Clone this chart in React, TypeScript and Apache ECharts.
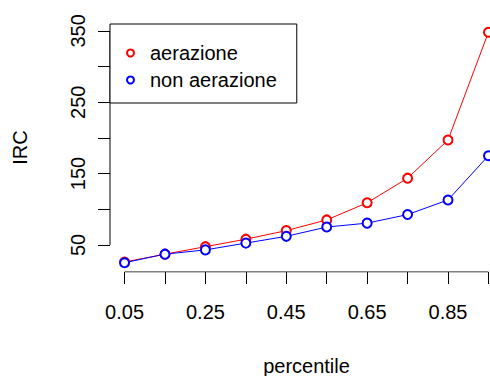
import React, { useEffect, useRef } from "react";
import * as echarts from "echarts";

const percentiles = [0.05, 0.15, 0.25, 0.35, 0.45, 0.55, 0.65, 0.75, 0.85, 0.95];
const aerazione = [26, 37, 47.5, 58, 70, 85, 109, 143.5, 197, 348];
const nonAerazione = [25, 37, 43, 52.5, 62, 75, 80.5, 92.5, 113, 175];
const xTicks = [0.05, 0.15, 0.25, 0.35, 0.45, 0.55, 0.65, 0.75, 0.85, 0.95];
const xLabels = [0.05, 0.25, 0.45, 0.65, 0.85];
const yTicks = [50, 100, 150, 200, 250, 300, 350];
const yLabels = [50, 150, 250, 350];
const xRange = [0.014, 0.986];
const yRange = [12, 361];

const FONT = "Liberation Sans, Arial, sans-serif";

export default function App() {
  const ref = useRef<HTMLDivElement>(null);
  useEffect(() => {
    if (!ref.current) return;
    const chart = echarts.init(ref.current, undefined, { renderer: "svg" });
    const axisLineColor = "#000";
    chart.setOption({
      animation: false,
      backgroundColor: "#fff",
      textStyle: { fontFamily: FONT },
      grid: { left: 110, right: 0, top: 23, bottom: 104, containLabel: false, outerBoundsMode: "none" },
      legend: {
        data: ["aerazione", "non aerazione"],
        orient: "vertical",
        left: 110,
        top: 24,
        icon: "emptyCircle",
        itemWidth: 7,
        itemHeight: 7,
        itemGap: 7,
        padding: [19, 20, 13, 16],
        borderColor: "#000",
        borderWidth: 1,
        backgroundColor: "#fff",
        textStyle: { fontSize: 20, color: "#000", fontFamily: FONT, lineHeight: 20, padding: [0, 0, 0, 11] },
      },
      xAxis: {
        type: "value",
        min: xRange[0],
        max: xRange[1],
        name: "percentile",
        nameLocation: "middle",
        nameGap: 84,
        nameTextStyle: { fontSize: 20, color: "#000", fontFamily: FONT },
        axisLine: { show: false },
        splitLine: { show: false },
        axisTick: { show: true, length: 12, lineStyle: { color: axisLineColor }, customValues: xTicks },
        axisLabel: {
          fontSize: 20,
          color: "#000",
          margin: 30,
          customValues: xLabels,
          formatter: (v: number) => v.toFixed(2),
        },
      },
      yAxis: {
        type: "value",
        min: yRange[0],
        max: yRange[1],
        name: "IRC",
        nameLocation: "middle",
        nameGap: 80,
        nameRotate: 90,
        nameTextStyle: { fontSize: 20, color: "#000", fontFamily: FONT },
        axisLine: { show: false },
        splitLine: { show: false },
        axisTick: { show: true, length: 12, lineStyle: { color: axisLineColor }, customValues: yTicks },
        axisLabel: {
          fontSize: 20,
          color: "#000",
          rotate: 90,
          margin: 22,
          customValues: yLabels,
          formatter: (v: number) => String(v),
        },
      },
      series: [
        {
          name: "yAxisLine",
          type: "line",
          silent: true,
          symbol: "none",
          lineStyle: { color: axisLineColor, width: 1 },
          data: [[xRange[0], yTicks[0]], [xRange[0], yTicks[yTicks.length - 1]]],
        },
        {
          name: "xAxisLine",
          type: "line",
          silent: true,
          symbol: "none",
          lineStyle: { color: axisLineColor, width: 1 },
          data: [[xTicks[0], yRange[0]], [xTicks[xTicks.length - 1], yRange[0]]],
        },
        {
          name: "aerazione",
          type: "line",
          symbol: "emptyCircle",
          symbolSize: 9,
          color: "#ff0000",
          lineStyle: { color: "#ff0000", width: 1 },
          itemStyle: { color: "#ff0000", borderColor: "#ff0000", borderWidth: 1 },
          data: percentiles.map((p, i) => [p, aerazione[i]]),
        },
        {
          name: "non aerazione",
          type: "line",
          symbol: "emptyCircle",
          symbolSize: 9,
          color: "#0000ff",
          lineStyle: { color: "#0000ff", width: 1 },
          itemStyle: { color: "#0000ff", borderColor: "#0000ff", borderWidth: 1 },
          data: percentiles.map((p, i) => [p, nonAerazione[i]]),
        },
      ],
    });
    return () => chart.dispose();
  }, []);
  return (
    <div style={{ position: "fixed", left: 0, top: 0, width: 490, height: 376, overflow: "hidden", background: "#fff" }}>
      <div ref={ref} style={{ position: "absolute", left: 0, top: 0, width: 503, height: 376 }} />
    </div>
  );
}
